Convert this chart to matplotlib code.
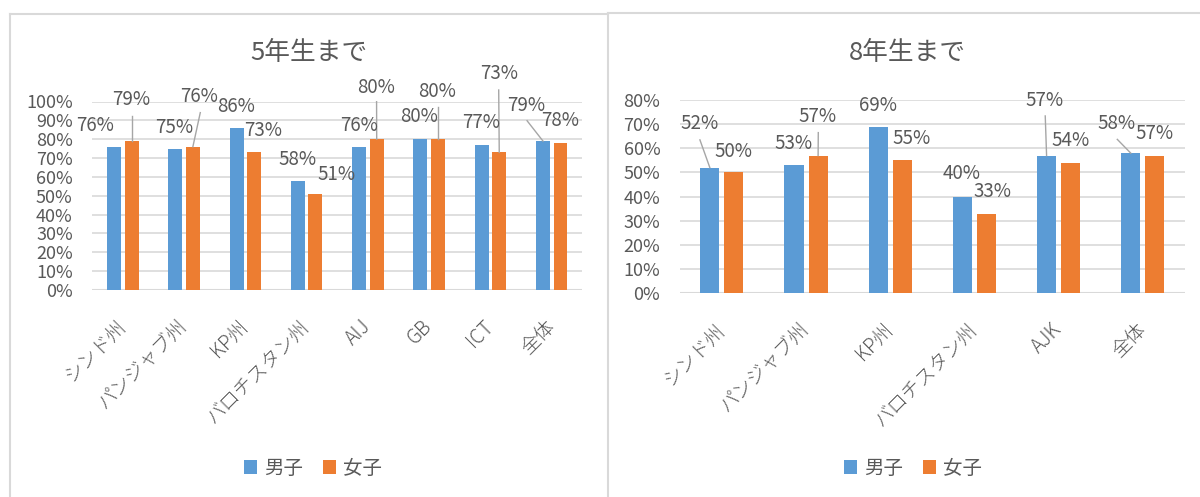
import matplotlib
matplotlib.use("Agg")
import matplotlib.pyplot as plt
from matplotlib.lines import Line2D
from matplotlib.patches import Patch

plt.rcParams['font.family'] = ['Noto Sans CJK JP', 'DejaVu Sans']

# ---- data ----
cats_5 = ["シンド州", "パンジャブ州", "KP州", "バロチスタン州", "AIJ", "GB", "ICT", "全体"]
boys_5 = [76, 75, 86, 58, 76, 80, 77, 79]
girls_5 = [79, 76, 73, 51, 80, 80, 73, 78]

cats_8 = ["シンド州", "パンジャブ州", "KP州", "バロチスタン州", "AJK", "全体"]
boys_8 = [52, 53, 69, 40, 57, 58]
girls_8 = [50, 57, 55, 33, 54, 57]

series_names = ["男子", "女子"]

# ---- style ----
BLUE = "#5B9BD5"
ORANGE = "#ED7D31"
GRID = "#D9D9D9"
TEXT = "#595959"
LEADER = "#A6A6A6"
W, H = 1200, 497
BAR_W = 0.227
OFFSET = 0.143

# data-label placement: (x in category units, y in percent); leader start or None
labels_5 = {
    "boys": [(-0.46, 87.5, None), (0.846, 86.3, None), (1.849, 97.6, None),
             (2.845, 69.3, None), (3.849, 87.5, None), (4.839, 91.9, None),
             (5.842, 88.8, None), (6.579, 98.1, (6.597, 89.8))],
    "girls": [(0.135, 100.8, (0.143, 92.3)), (1.246, 102.6, (1.264, 94.1)),
              (2.287, 84.4, None), (3.48, 61.5, None), (4.128, 107.5, (4.141, 99.9)),
              (5.131, 105.2, (5.143, 96.9)), (6.134, 114.6, (6.134, 106.1)),
              (7.137, 89.8, None)],
}
labels_8 = {
    "boys": [(-0.261, 70.1, (-0.261, 63.5)), (0.852, 62.1, None), (1.849, 77.9, None),
             (2.849, 49.4, None), (3.828, 80.0, (3.841, 73.4)), (4.689, 70.1, (4.697, 63.7))],
    "girls": [(0.135, 58.6, None), (1.136, 73.1, (1.145, 66.5)), (2.254, 64.2, None),
              (3.219, 42.1, None), (4.139, 63.2, None), (5.139, 66.2, None)],
}

fig = plt.figure(figsize=(W / 100, H / 100), dpi=100)


def px_axes(x0, x1, y_top, y_bot):
    return fig.add_axes([x0 / W, (H - y_bot) / H, (x1 - x0) / W, (y_bot - y_top) / H])


def draw_panel(ax, cats, boys, girls, ymax, labels, title, title_x):
    n = len(cats)
    xs = list(range(n))
    xb = [x - OFFSET for x in xs]
    xg = [x + OFFSET for x in xs]
    ax.bar(xb, boys, width=BAR_W, color=BLUE, zorder=3)
    ax.bar(xg, girls, width=BAR_W, color=ORANGE, zorder=3)
    ax.set_xlim(-0.5, n - 0.5)
    ax.set_ylim(0, ymax)
    ax.set_yticks(range(0, ymax + 1, 10))
    ax.set_yticklabels([f"{v}%" for v in range(0, ymax + 1, 10)])
    ax.grid(axis='y', color=GRID, linewidth=1.2, zorder=0)
    for s in ax.spines.values():
        s.set_visible(False)
    ax.axhline(0, color=GRID, linewidth=1.5, zorder=2)
    ax.tick_params(axis='y', length=0, pad=14, labelsize=13, labelcolor=TEXT)
    ax.set_xticks(xs)
    ax.set_xticklabels(cats, rotation=45, ha='right', va='center',
                       rotation_mode='anchor', fontweight='light')
    ax.tick_params(axis='x', length=0, pad=24, labelsize=14, labelcolor=TEXT)

    for key, vals, bx in (("boys", boys, xb), ("girls", girls, xg)):
        for (lx, ly, lead), v, x in zip(labels[key], vals, bx):
            ax.text(lx, ly, f"{v}%", ha='center', va='center', fontsize=13.5,
                    color=TEXT, clip_on=False, zorder=5)
            if lead is not None:
                ax.add_line(Line2D([lead[0], x], [lead[1], v], color=LEADER,
                                   linewidth=1.0, clip_on=False, zorder=4))

    fig.text(title_x / W, (H - 53) / H, title, ha='center', va='center',
             fontsize=18.5, color=TEXT)


ax1 = px_axes(92.2, 582.4, 101.5, 290.0)
draw_panel(ax1, cats_5, boys_5, girls_5, 100, labels_5, "5年生まで", 309)

ax2 = px_axes(679.8, 1184.9, 100.0, 293.3)
draw_panel(ax2, cats_8, boys_8, girls_8, 80, labels_8, "8年生まで", 907)

handles = [Patch(facecolor=BLUE, edgecolor='none'), Patch(facecolor=ORANGE, edgecolor='none')]
for cx in (313, 913):
    fig.legend(handles, series_names, loc='center', bbox_to_anchor=(cx / W, (H - 468) / H),
               ncol=2, frameon=False, fontsize=14, labelcolor=TEXT,
               handlelength=0.7, handleheight=0.7, handletextpad=0.35,
               columnspacing=1.0)

# chart-area borders
def fig_line(xa, ya):
    fig.add_artist(Line2D([x / W for x in xa], [(H - y) / H for y in ya],
                          color=GRID, linewidth=1.5, transform=fig.transFigure))

fig_line([9.5, 608], [13.5, 13.5])
fig_line([9.5, 9.5], [13.5, H + 2])
fig_line([608, 608], [12.5, H + 2])
fig_line([608, W + 2], [12.5, 12.5])

fig.savefig("out.png", dpi=100, facecolor='white')
